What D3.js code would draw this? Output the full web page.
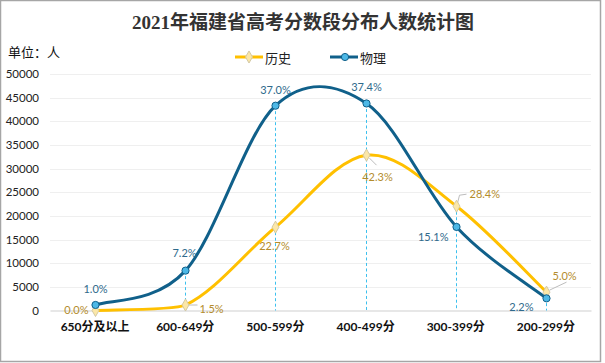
<!DOCTYPE html>
<html><head><meta charset="utf-8">
<script src="https://cdn.jsdelivr.net/npm/d3@7"></script>
<style>
html,body{margin:0;padding:0;background:#fff;}
svg{display:block;}
text{font-family:Lato,"Liberation Sans","Noto Sans CJK SC",sans-serif;}
</style></head>
<body>
<script>
const categories = ["650分及以上","600-649分","500-599分","400-499分","300-399分","200-299分"];
const historyValues = [0, 1160, 17620, 32840, 22050, 3880];
const physicsValues = [1170, 8430, 43300, 43770, 17670, 2570];
const historyLabels = ["0.0%","1.5%","22.7%","42.3%","28.4%","5.0%"];
const physicsLabels = ["1.0%","7.2%","37.0%","37.4%","15.1%","2.2%"];
const yTicks = [0,5000,10000,15000,20000,25000,30000,35000,40000,45000,50000];
const seriesNames = ["历史","物理"];
const titleText = "2021年福建省高考分数段分布人数统计图";
const unitText = "单位：人";

const W = 605, H = 363;
const blue = "#10608a", blueFill = "#4db8e6", yellow = "#ffc000";
const blueLbl = "#2f6a8c", yellowLbl = "#b48c2c";

const svg = d3.select("body").append("svg").attr("width", W).attr("height", H);
svg.append("rect").attr("x",0.5).attr("y",0.5).attr("width",600).attr("height",361)
  .attr("fill","#fff").attr("stroke","#a6a6a6").attr("stroke-width",1.5);

const x = d3.scaleBand().domain(categories).range([50, 591]);
const cx = c => Math.round(x(c) + x.bandwidth()/2) + 0.5;
const y = d3.scaleLinear().domain([0, 50000]).range([310.5, 74]);

// Excel-like smooth curve: cardinal (tension 0) bezier arms, with any arm that would
// dip below the zero baseline shortened along its own direction (keeps smoothness).
function smoothPath(values){
  const pts = values.map((v,i)=>[cx(categories[i]), y(v)]);
  const base = y(0);
  const n = pts.length;
  const p = d3.path();
  p.moveTo(pts[0][0], pts[0][1]);
  const clampArm = (P, C) => {
    if (C[1] > base && P[1] < base + 1e-6 && C[1] !== P[1]) {
      const k = Math.max(0, (base - P[1]) / (C[1] - P[1]));
      return [P[0] + (C[0]-P[0])*k, P[1] + (C[1]-P[1])*k];
    }
    return C;
  };
  for (let i=0;i<n-1;i++){
    const p0 = pts[Math.max(0,i-1)], p1 = pts[i], p2 = pts[i+1], p3 = pts[Math.min(n-1,i+2)];
    let c1 = [p1[0] + (p2[0]-p0[0])/6, p1[1] + (p2[1]-p0[1])/6];
    let c2 = [p2[0] - (p3[0]-p1[0])/6, p2[1] - (p3[1]-p1[1])/6];
    c1 = clampArm(p1, c1); c2 = clampArm(p2, c2);
    p.bezierCurveTo(c1[0],c1[1],c2[0],c2[1],p2[0],p2[1]);
  }
  return p.toString();
}

// gridlines
svg.append("g").selectAll("line").data(yTicks.filter(d=>d>0)).join("line")
  .attr("x1",50).attr("x2",591).attr("y1",d=>Math.round(y(d))+0.5).attr("y2",d=>Math.round(y(d))+0.5)
  .attr("stroke","#efefef").attr("stroke-width",1);

// y axis
const yAxis = d3.axisLeft(y).tickValues(yTicks).tickSize(0).tickPadding(0).tickFormat(d3.format("d"));
const gy = svg.append("g").attr("transform","translate(39,0)").call(yAxis);
gy.select(".domain").remove();
gy.selectAll("text").attr("font-size","11.5px").attr("fill","#222");

// x axis
const xAxis = d3.axisBottom(x).tickSize(0).tickPadding(12);
const gx = svg.append("g").attr("transform",`translate(0,${y(0)})`).call(xAxis);
gx.select(".domain").attr("stroke","#d0d0d0").attr("stroke-width",1.2);
gx.selectAll("text").attr("font-size","12px").attr("font-weight","bold").attr("fill","#111");

// drop lines
svg.append("g").selectAll("line").data(categories.slice(1)).join("line")
  .attr("x1",d=>cx(d)).attr("x2",d=>cx(d))
  .attr("y1",d=>{const i=categories.indexOf(d);return y(Math.max(historyValues[i],physicsValues[i]));})
  .attr("y2",y(0))
  .attr("stroke","#3cc0ee").attr("stroke-width",1).attr("stroke-dasharray","3,2.5");

svg.append("path").attr("d",smoothPath(historyValues)).attr("fill","none")
  .attr("stroke",yellow).attr("stroke-width",3);
svg.append("path").attr("d",smoothPath(physicsValues)).attr("fill","none")
  .attr("stroke",blue).attr("stroke-width",3);

// leader lines for history labels
const leaders = [
  null,
  [[3,0],[12,0]],
  null,
  [[3,3],[10,10]],
  [[1,-3],[3,-11],[10,-12]],
  [[3,-2],[20,-10]]
];
svg.append("g").selectAll("path").data(leaders.map((l,i)=>({l,i})).filter(d=>d.l)).join("path")
  .attr("d",d=>{const px=cx(categories[d.i]), py=y(historyValues[d.i]);
    return d3.line()(d.l.map(p=>[px+p[0],py+p[1]]));})
  .attr("fill","none").attr("stroke","#bdbdbd").attr("stroke-width",1);

// markers
const diamond = d3.symbol().type(d3.symbolDiamond).size(42);
svg.append("g").selectAll("path").data(historyValues).join("path")
  .attr("d",diamond)
  .attr("transform",(d,i)=>`translate(${cx(categories[i])},${y(d)})`)
  .attr("fill","#fbe7a8").attr("stroke","#d4c9a4").attr("stroke-width",1);
svg.append("g").selectAll("circle").data(physicsValues).join("circle")
  .attr("cx",(d,i)=>cx(categories[i])).attr("cy",d=>y(d)).attr("r",3.6)
  .attr("fill",blueFill).attr("stroke",blue).attr("stroke-width",1);

// data labels
const physOff = [[0,-16,"middle"],[-1,-18,"middle"],[0,-16,"middle"],[0,-17,"middle"],[-8,10,"end"],[-13,8,"end"]];
const histOff = [[-7,-1,"end"],[14,3,"start"],[-1,18,"middle"],[11,21,"middle"],[13,-13,"start"],[6,-17,"start"]];
svg.append("g").selectAll("text").data(physicsValues).join("text")
  .attr("x",(d,i)=>cx(categories[i])+physOff[i][0]).attr("y",(d,i)=>y(d)+physOff[i][1])
  .attr("text-anchor",(d,i)=>physOff[i][2]).attr("dominant-baseline","central")
  .attr("font-size","11px").attr("fill",blueLbl).text((d,i)=>physicsLabels[i]);
svg.append("g").selectAll("text").data(historyValues).join("text")
  .attr("x",(d,i)=>cx(categories[i])+histOff[i][0]).attr("y",(d,i)=>y(d)+histOff[i][1])
  .attr("text-anchor",(d,i)=>histOff[i][2]).attr("dominant-baseline","central")
  .attr("font-size","11px").attr("fill",yellowLbl).text((d,i)=>historyLabels[i]);

// title
svg.append("text").attr("x",303).attr("y",29).attr("text-anchor","middle")
  .attr("font-size","19px").attr("font-weight","bold").attr("fill","#333")
  .style("font-family",'"Liberation Serif","DejaVu Serif","Noto Sans CJK SC",serif')
  .text(titleText);

// unit
svg.append("text").attr("x",8).attr("y",57).attr("font-size","13px").attr("fill","#111")
  .style("font-family",'"Noto Sans CJK SC",sans-serif').text(unitText);

// legend
const leg = svg.append("g");
const legItems = [
  {name:seriesNames[0], x1:235, color:yellow},
  {name:seriesNames[1], x1:330, color:blue}
];
legItems.forEach((it,k)=>{
  leg.append("line").attr("x1",it.x1).attr("x2",it.x1+28).attr("y1",57).attr("y2",57)
    .attr("stroke",it.color).attr("stroke-width",3);
  if(k===0){
    leg.append("path").attr("d",diamond).attr("transform",`translate(${it.x1+14},57)`)
      .attr("fill","#fbe7a8").attr("stroke","#d4c9a4");
  } else {
    leg.append("circle").attr("cx",it.x1+15).attr("cy",57).attr("r",3.6)
      .attr("fill",blueFill).attr("stroke",blue);
  }
  leg.append("text").attr("x",it.x1+30).attr("y",57).attr("dominant-baseline","central")
    .attr("font-size","13px").attr("fill","#222")
    .style("font-family",'"Noto Sans CJK SC",sans-serif').text(it.name);
});
</script>
</body></html>
